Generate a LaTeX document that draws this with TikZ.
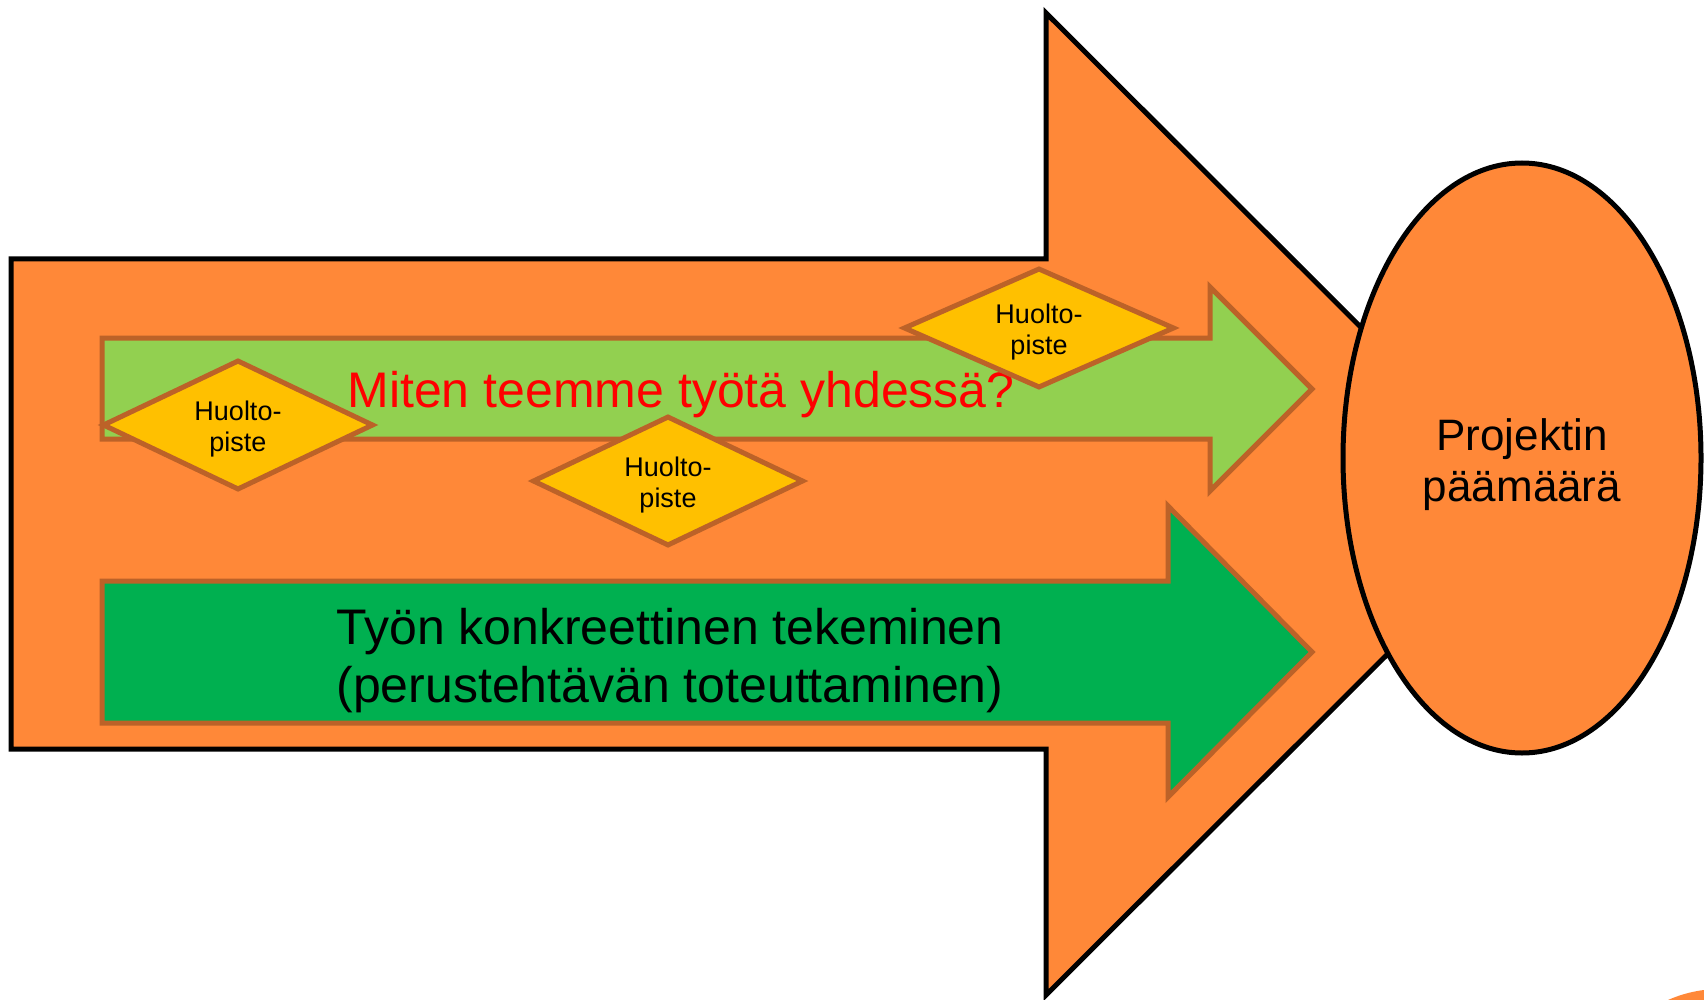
\documentclass[tikz,border=0pt]{standalone}
\usepackage{fontspec}
\setmainfont{Liberation Sans}
\usetikzlibrary{shapes.geometric}
\definecolor{bigorange}{RGB}{255,136,56}
\definecolor{lightgreen}{RGB}{146,208,80}
\definecolor{darkgreen}{RGB}{0,176,80}
\definecolor{gold}{RGB}{255,192,0}
\definecolor{rust}{RGB}{188,98,40}
\definecolor{textred}{RGB}{255,0,0}
\begin{document}
\begin{tikzpicture}[x=1pt,y=-1pt,
  bigarrow/.style={fill=bigorange, draw=black, line width=5pt, line join=miter},
  innerarrow/.style={draw=rust, line width=5pt, line join=miter},
  huolto/.style={diamond, aspect=2, draw=rust, fill=gold, line width=5pt,
    minimum width=271pt, minimum height=130pt, inner sep=0pt},
  huoltotext/.style={align=center, inner sep=0pt, font=\fontsize{27}{31}\selectfont},
  goalshape/.style={ellipse, draw=black, fill=bigorange, line width=5pt,
    minimum width=358pt, minimum height=590pt, inner sep=0pt},
  bigtext/.style={align=center, inner sep=0pt, font=\fontsize{50}{58}\selectfont}]
\useasboundingbox (0,0) rectangle (1704,1000);
\clip (0,0) rectangle (1704,1000);
% decorative corner circle
\fill[bigorange] (1720,1117) circle[radius=128pt];
% big arrow
\draw[bigarrow] (11,259) -- (1046,259) -- (1046,13) -- (1538,504) -- (1046,995) -- (1046,749) -- (11,749) -- cycle;
% goal ellipse
\node[goalshape] (goal) at (1522,458) {};
\node[align=center, inner sep=0pt, font=\fontsize{44}{51}\selectfont] (goaltext) at ([yshift=-7pt]goal.center) {Projektin\\päämäärä};
% light green arrow
\draw[innerarrow, fill=lightgreen] (102,338) -- (1210,338) -- (1210,287) -- (1312,389) -- (1210,491) -- (1210,439) -- (102,439) -- cycle;
\node[huolto] (h1) at (238,425) {};
\node[huoltotext] (h1t) at ([yshift=-4pt]h1.center) {Huolto-\\piste};
\node[huolto] (h2) at (668,481) {};
\node[huoltotext] (h2t) at ([yshift=-4pt]h2.center) {Huolto-\\piste};
\node[bigtext, text=textred] (miten) at (681,395) {Miten teemme työtä yhdessä?};
\node[huolto, minimum height=120pt] (h3) at (1039,328) {};
\node[huoltotext] (h3t) at ([yshift=-4pt]h3.center) {Huolto-\\piste};
% dark green arrow
\draw[innerarrow, fill=darkgreen] (102,581) -- (1168,581) -- (1168,506) -- (1312,652) -- (1168,797) -- (1168,723) -- (102,723) -- cycle;
\node[bigtext] (tyon) at (670,661) {Työn konkreettinen tekeminen\\(perustehtävän toteuttaminen)};
\end{tikzpicture}
\end{document}
